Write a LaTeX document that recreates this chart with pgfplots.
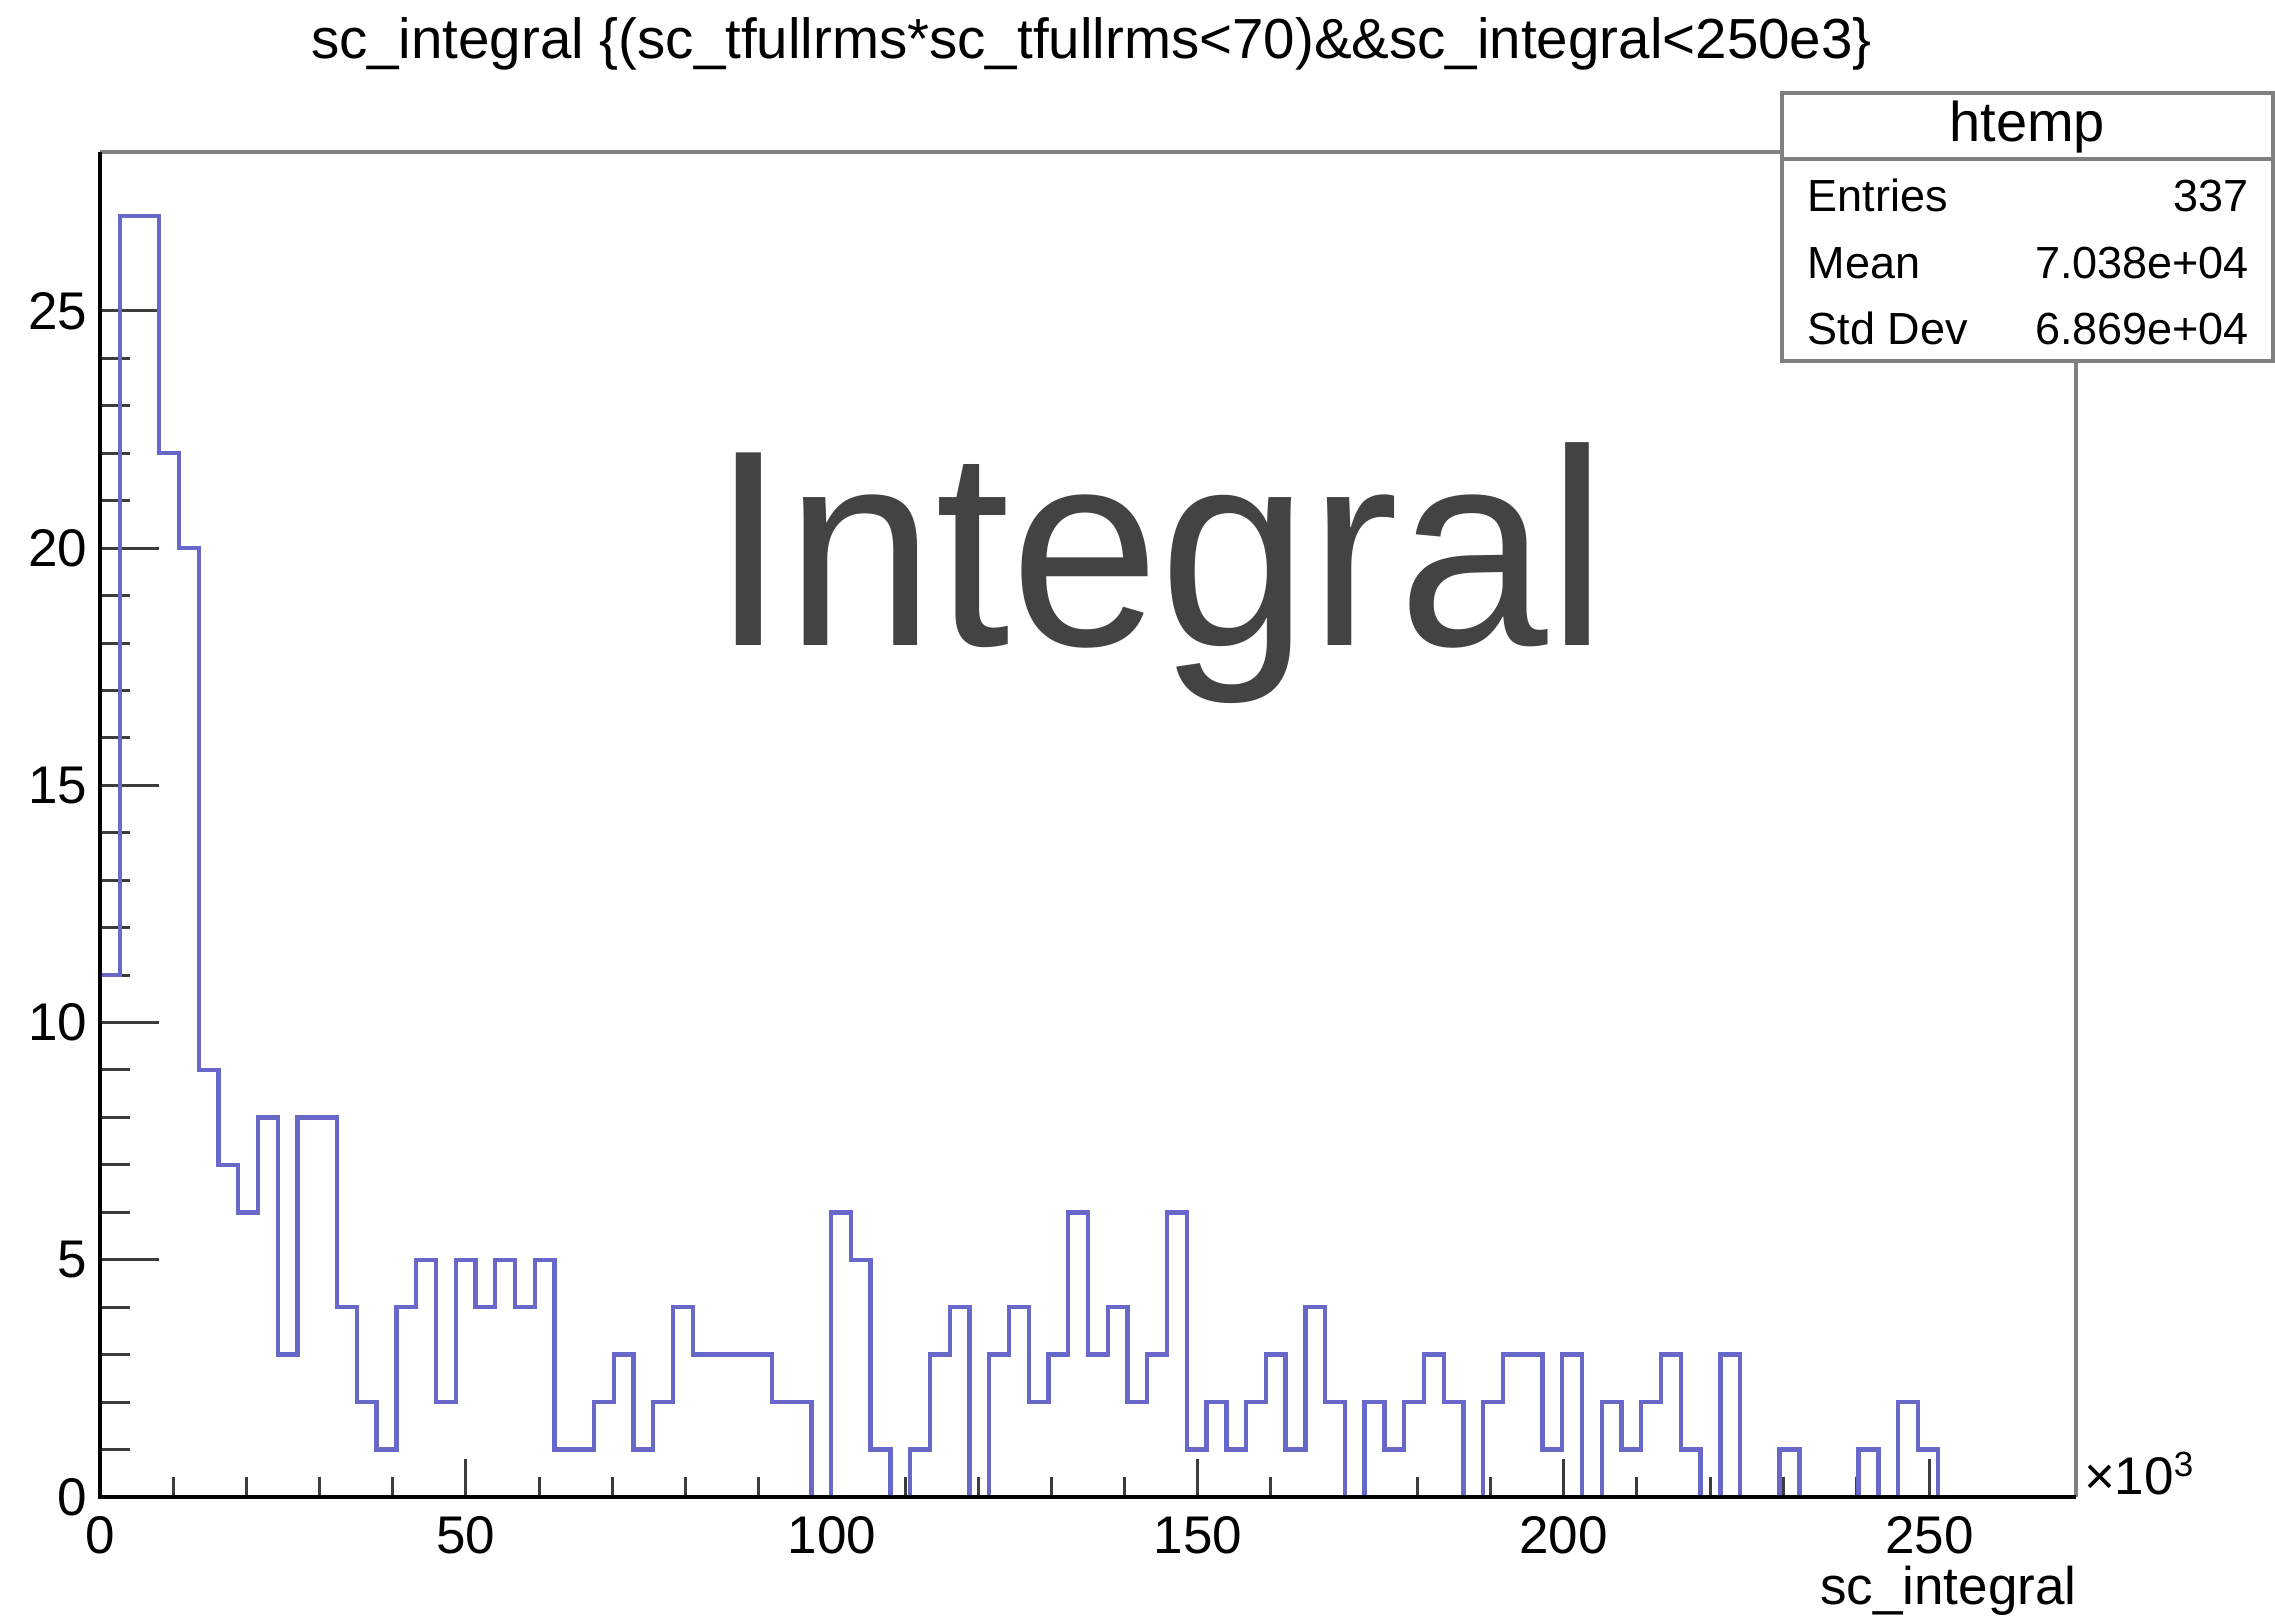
\documentclass[border=0pt]{standalone}
\usepackage{fontspec}
\setmainfont{Liberation Sans}
\usepackage{graphicx}
\usepackage{pgfplots}
\usepackage{pgfplotstable}
\pgfplotsset{compat=1.18}
\definecolor{histblue}{RGB}{104,104,202}
\definecolor{textgray}{RGB}{67,67,67}
\definecolor{framegray}{RGB}{128,128,128}
\definecolor{tickgray}{RGB}{60,60,60}

\pgfplotstableread{
x y
0 0
0 11
2.7 27
5.4 27
8.1 22
10.8 20
13.5 9
16.2 7
18.9 6
21.6 8
24.3 3
27 8
29.7 8
32.4 4
35.1 2
37.8 1
40.5 4
43.2 5
45.9 2
48.6 5
51.3 4
54 5
56.7 4
59.4 5
62.1 1
64.8 1
67.5 2
70.2 3
72.9 1
75.6 2
78.3 4
81 3
83.7 3
86.4 3
89.1 3
91.8 2
94.5 2
97.2 0
99.9 6
102.6 5
105.3 1
108 0
110.7 1
113.4 3
116.1 4
118.8 0
121.5 3
124.2 4
126.9 2
129.6 3
132.3 6
135 3
137.7 4
140.4 2
143.1 3
145.8 6
148.5 1
151.2 2
153.9 1
156.6 2
159.3 3
162 1
164.7 4
167.4 2
170.1 0
172.8 2
175.5 1
178.2 2
180.9 3
183.6 2
186.3 0
189 2
191.7 3
194.4 3
197.1 1
199.8 3
202.5 0
205.2 2
207.9 1
210.6 2
213.3 3
216 1
218.7 0
221.4 3
224.1 0
226.8 0
229.5 1
232.2 0
234.9 0
237.6 0
240.3 1
243 0
245.7 2
248.4 1
251.1 0
253.8 0
256.5 0
259.2 0
261.9 0
264.6 0
267.3 0
270 0
}\histdata

\begin{document}
\begin{tikzpicture}
\useasboundingbox (-20pt,-23.8pt) rectangle (435pt,299.4pt);
\begin{axis}[
  at={(0pt,0pt)}, anchor=south west,
  scale only axis, width=395.2pt, height=269pt,
  xmin=0, xmax=270, ymin=0, ymax=28.35,
  axis line style={draw=none},
  xtick={0,50,100,150,200,250},
  ytick={0,5,10,15,20,25},
  minor x tick num=4, minor y tick num=4,
  tick pos=left,
  tick align=inside,
  major tick length=11.7pt, minor tick length=6pt,
  every tick/.append style={tickgray, line width=0.6pt},
  every x tick/.append style={/pgfplots/major tick length=7.5pt,/pgfplots/minor tick length=4pt},
  scaled ticks=false,
  /pgf/number format/assume math mode=true,
  ticklabel style={font=\fontsize{10.6}{12}\selectfont},
  xticklabel style={anchor=base, inner sep=0pt, yshift=-11.3pt},
  yticklabel style={anchor=east, inner sep=0pt, xshift=-2.4pt},
  clip=false,
]
\draw[framegray, line width=0.8pt] (rel axis cs:0,1) -- (rel axis cs:1,1) -- (rel axis cs:1,0);
\addplot[const plot, histblue, line width=0.87pt, line join=miter] table[x=x, y=y] {\histdata};
\draw[black, line width=0.8pt] (rel axis cs:0,1) -- (rel axis cs:0,0) -- (rel axis cs:1,0);
\end{axis}

% title
\node[anchor=base west, inner sep=0pt, font=\fontsize{11.3}{13}\selectfont] at (42pt,287.7pt)
  {sc\_integral \{(sc\_tfullrms*sc\_tfullrms<70)\&\&sc\_integral<250e3\}};

% big overlay text
\node[anchor=base, inner sep=0pt, text=textgray] at (211.9pt,170.2pt)
  {\scalebox{0.96}[1]{\fontsize{56}{60}\selectfont Integral}};

% axis label and multiplier
\node[anchor=base east, inner sep=0pt, font=\fontsize{10.6}{12}\selectfont] at (395.5pt,-21.6pt) {sc\_integral};
\node[anchor=base west, inner sep=0pt, font=\fontsize{10.6}{12}\selectfont] at (396.6pt,0.4pt)
  {×10\raisebox{3.6pt}{\fontsize{7}{8}\selectfont 3}};

% stats box
\draw[fill=white, draw=framegray, line width=0.8pt] (336.3pt,227.2pt) rectangle (434.6pt,280.7pt);
\draw[framegray, line width=0.8pt] (336.3pt,267.6pt) -- (434.6pt,267.6pt);
\node[anchor=base, inner sep=0pt, font=\fontsize{11.2}{13}\selectfont] at (385.45pt,271.1pt) {htemp};
\node[anchor=base west, inner sep=0pt, font=\fontsize{9}{11}\selectfont] at (341.3pt,257.1pt) {Entries};
\node[anchor=base east, inner sep=0pt, font=\fontsize{9}{11}\selectfont] at (430pt,257.1pt) {337};
\node[anchor=base west, inner sep=0pt, font=\fontsize{9}{11}\selectfont] at (341.3pt,243.7pt) {Mean};
\node[anchor=base east, inner sep=0pt, font=\fontsize{9}{11}\selectfont] at (430pt,243.7pt) {7.038e+04};
\node[anchor=base west, inner sep=0pt, font=\fontsize{9}{11}\selectfont] at (341.3pt,230.4pt) {Std Dev};
\node[anchor=base east, inner sep=0pt, font=\fontsize{9}{11}\selectfont] at (430pt,230.4pt) {6.869e+04};
\end{tikzpicture}
\end{document}
